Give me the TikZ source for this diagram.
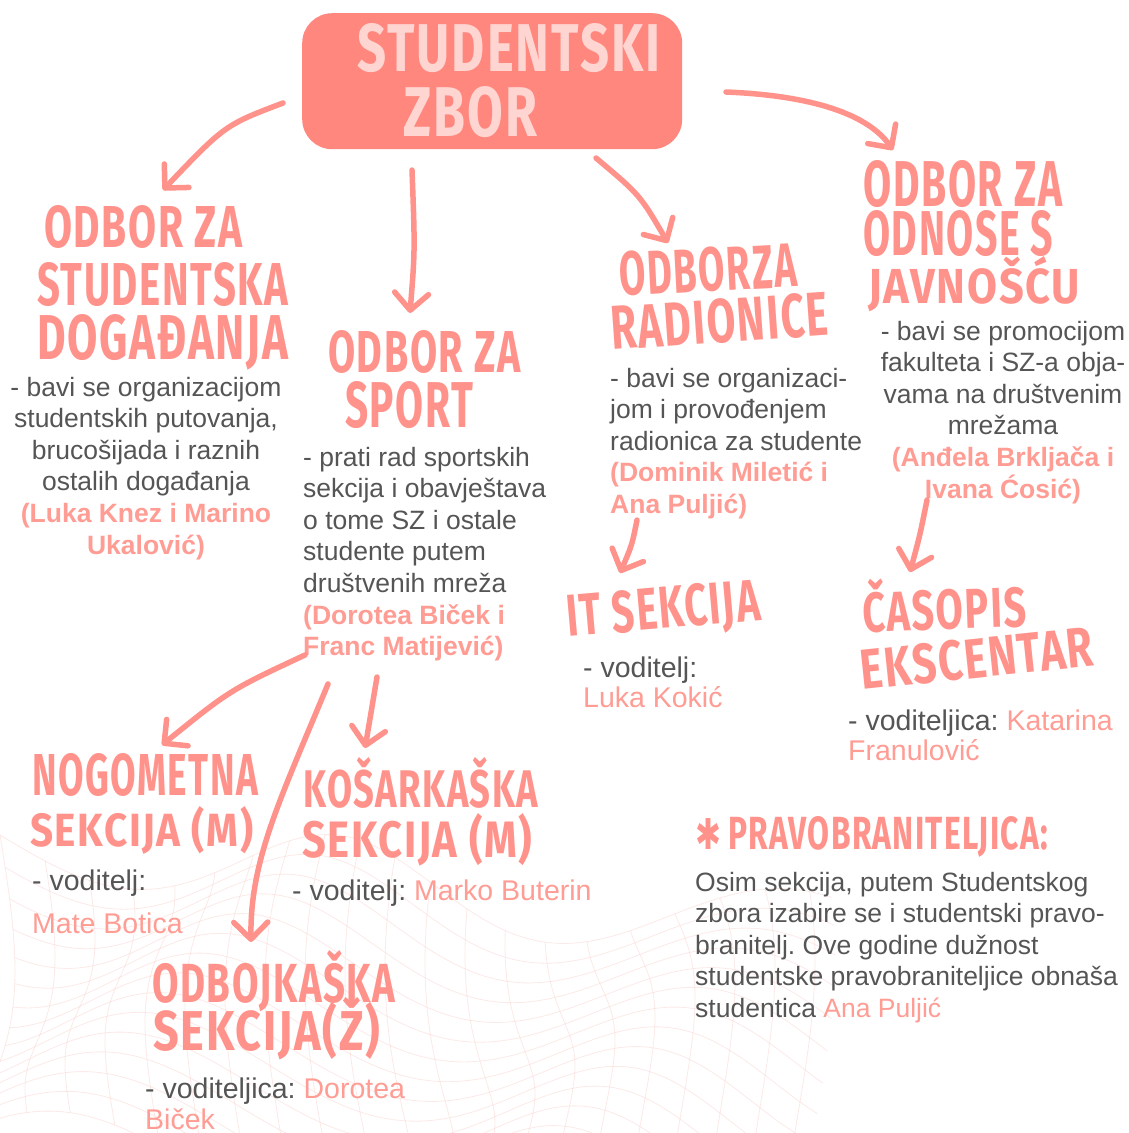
\documentclass[tikz,border=0pt]{standalone}
\usepackage{graphicx}
\usepackage{fontspec}
\setmainfont{Liberation Sans}
\newfontfamily\handf[LetterSpace=4]{Fira Sans}
\newfontfamily\symf{DejaVu Sans}
\usetikzlibrary{arrows.meta}
\definecolor{boxc}{HTML}{FF877E}
\definecolor{headc}{HTML}{FF938B}
\definecolor{boxtxt}{HTML}{FFD5D2}
\definecolor{txtgray}{HTML}{555555}
\definecolor{namec}{HTML}{FF9C94}
\definecolor{meshc}{HTML}{F8CDC8}
\newcommand\hw[3]{\resizebox{#1pt}{#2pt}{\handf\bfseries #3}}
\frenchspacing
\begin{document}
\frenchspacing
\begin{tikzpicture}[x=1pt,y=-1pt,
  head/.style={inner sep=0pt, anchor=base west, text=headc},
  boxhead/.style={inner sep=0pt, anchor=base west, text=boxtxt},
  body/.style={inner sep=0pt, text=txtgray, font=\fontsize{26.5}{31.6}\selectfont},
  sect/.style={inner sep=0pt, text=txtgray, anchor=base west, font=\fontsize{28.5}{30.5}\selectfont},
  arr/.style={draw=headc, line width=5.5pt, line cap=round, line join=round, -{Straight Barb[length=17pt,width=34pt,round]}},
  mesh/.style={draw=meshc, line width=0.8pt, opacity=0.42}]
\useasboundingbox (0,0) rectangle (1128,1133);
\fill[white] (0,0) rectangle (1128,1133);
% background mesh
\begin{scope}
\clip (0,0) rectangle (1128,1133);
\foreach \v in {0,...,14} {
  \draw[mesh] plot[variable=\t, domain=0:820, samples=90, smooth] ({\t + 15*sin(\v*20 + \t*0.5)}, {835 + 0.12*\t + 22*\v + 40*sin(\t*0.8 + \v*15)});
}
\foreach \u in {0,40,...,800} {
  \draw[mesh] plot[variable=\t, domain=0:14, samples=30, smooth] ({\u + 15*sin(\t*20 + \u*0.5)}, {835 + 0.12*\u + 22*\t + 40*sin(\u*0.8 + \t*15)});
}
\end{scope}

% central box
\node[fill=boxc, rounded corners=30pt, minimum width=380pt, minimum height=136pt, anchor=north west, inner sep=0pt] (zbor) at (302,13) {};
\node[boxhead] (zt1) at (357,71) {\hw{303}{48}{STUDENTSKI}};
\node[boxhead] (zt2) at (403,136) {\hw{134}{50}{ZBOR}};

% committee headings
\node[head] (h1a) at (44,247) {\hw{198}{42}{ODBOR ZA}};
\node[head] (h1b) at (37,305) {\hw{251}{43}{STUDENTSKA}};
\node[head] (h1c) at (37,359) {\hw{251}{45}{DOGAĐANJA}};

\node[head] (h2a) at (328,372) {\hw{192}{42}{ODBOR ZA}};
\node[head] (h2b) at (345,427) {\hw{128}{46}{SPORT}};

\node[head, rotate=3] (h3a) at (620,296) {\hw{178}{44}{ODBOR\hspace{0.05em}ZA}};
\node[head, rotate=4] (h3b) at (612,350) {\hw{218}{44}{RADIONICE}};

\node[head] (h4a) at (863,206) {\hw{199}{46}{ODBOR ZA}};
\node[head] (h4b) at (863,255) {\hw{190}{45}{ODNOSE S}};
\node[head] (h4c) at (868,303) {\hw{212}{47}{JAVNOŠĆU}};

% committee bodies
\node[body, anchor=base] (d1) at (146,396) {\parbox[t]{290pt}{\centering
 - bavi se organizacijom\\ studentskih putovanja,\\ brucošijada i raznih\\ ostalih događanja\\
 {\color{namec}\bfseries (Luka Knez i Marino\\ Ukalović)}}};
\node[body, anchor=base west] (d2) at (303,466) {\parbox[t]{260pt}{\raggedright
 - prati rad sportskih\\ sekcija i obavještava\\ o tome SZ i ostale\\ studente putem\\ društvenih mreža\\
 {\color{namec}\bfseries (Dorotea Biček i\\ Franc Matijević)}}};
\node[body, anchor=base west] (d3) at (610,387) {\parbox[t]{270pt}{\raggedright
 - bavi se organizaci-\\ jom i provođenjem\\ radionica za studente\\
 {\color{namec}\bfseries (Dominik Miletić i\\ Ana Puljić)}}};
\node[body, anchor=base] (d4) at (1003,340) {\parbox[t]{262pt}{\centering
 - bavi se promocijom\\ fakulteta i SZ-a obja-\\ vama na društvenim\\ mrežama\\
 {\color{namec}\bfseries (Anđela Brkljača i\\ Ivana Ćosić)}}};

% section headings
\node[head, rotate=5] (h5) at (568,637) {\hw{194}{42}{IT SEKCIJA}};
\node[head, rotate=2] (h6a) at (863,632) {\hw{164}{53}{ČASOPIS}};
\node[head, rotate=6] (h6b) at (862,690) {\hw{234}{40}{EKSCENTAR}};
\node[head] (h7a) at (32,795) {\hw{226}{42}{NOGOMETNA}};
\node[head] (h7b) at (30,846) {\hw{223}{40}{SEKCIJA (M)}};
\node[head] (h8a) at (303,807) {\hw{235}{50}{KOŠARKAŠKA}};
\node[head] (h8b) at (302,857) {\hw{230}{44}{SEKCIJA (M)}};
\node[head] (h9a) at (152,1002) {\hw{243}{52}{ODBOJKAŠKA}};
\node[head] (h9b) at (153,1050) {\hw{227}{53}{SEKCIJA(Ž)}};

% section bodies
\node[sect] (s5) at (583,677) {\parbox[t]{250pt}{\raggedright - voditelj:\\ {\color{namec}Luka Kokić}}};
\node[sect] (s6) at (848,730) {\parbox[t]{275pt}{\raggedright - voditeljica: {\color{namec}Katarina\\ Franulović}}};
\node[sect] (s7) at (32,890) {\parbox[t]{250pt}{\raggedright - voditelj:\\[12.5pt] {\color{namec}Mate Botica}}};
\node[sect] (s8) at (292,900) {- voditelj: {\color{namec}Marko Buterin}};
\node[sect, font=\fontsize{28.5}{31}\selectfont] (s9) at (145,1098) {\parbox[t]{330pt}{\raggedright - voditeljica: {\color{namec}Dorotea\\ Biček}}};

% pravobraniteljica
\node[head] (h10) at (695,849) {\resizebox{26pt}{31pt}{\symf\bfseries ✱}\hspace{7pt}\hw{320}{33}{PRAVOBRANITELJICA:}};
\node[body, anchor=base west] (d10) at (695,891) {\parbox[t]{430pt}{\raggedright
 Osim sekcija, putem Studentskog\\ zbora izabire se i studentski pravo-\\ branitelj. Ove godine dužnost\\ studentske pravobraniteljice obnaša\\ studentica {\color{namec}Ana Puljić}}};

% arrow end points
\coordinate (a1s) at (283,103); \coordinate (a1e) at (163,190);
\coordinate (a2s) at (412,170); \coordinate (a2e) at (410,313);
\coordinate (a3s) at (596,158); \coordinate (a3e) at (668,243);
\coordinate (a4s) at (726,92);  \coordinate (a4e) at (893,150);
\coordinate (a5s) at (637,520); \coordinate (a5e) at (620,573);
\coordinate (a6s) at (927,500); \coordinate (a6e) at (910,572);
\coordinate (a7s) at (305,655); \coordinate (a7e) at (162,745);
\coordinate (a8s) at (328,684); \coordinate (a8e) at (251,942);
\coordinate (a9s) at (377,677); \coordinate (a9e) at (365,748);

\draw[arr] (a1s) .. controls (225,125) .. (a1e);
\draw[arr] (a2s) .. controls (415,250) .. (a2e);
\draw[arr] (a3s) .. controls (640,195) .. (a3e);
\draw[arr] (a4s) .. controls (800,95) and (865,110) .. (a4e);
\draw[arr] (a5s) .. controls (632,545) .. (a5e);
\draw[arr] (a6s) .. controls (920,535) .. (a6e);
\draw[arr] (a7s) .. controls (230,690) .. (a7e);
\draw[arr] (a8s) .. controls (280,800) and (250,860) .. (a8e);
\draw[arr] (a9s) .. controls (372,710) .. (a9e);
\end{tikzpicture}
\end{document}
